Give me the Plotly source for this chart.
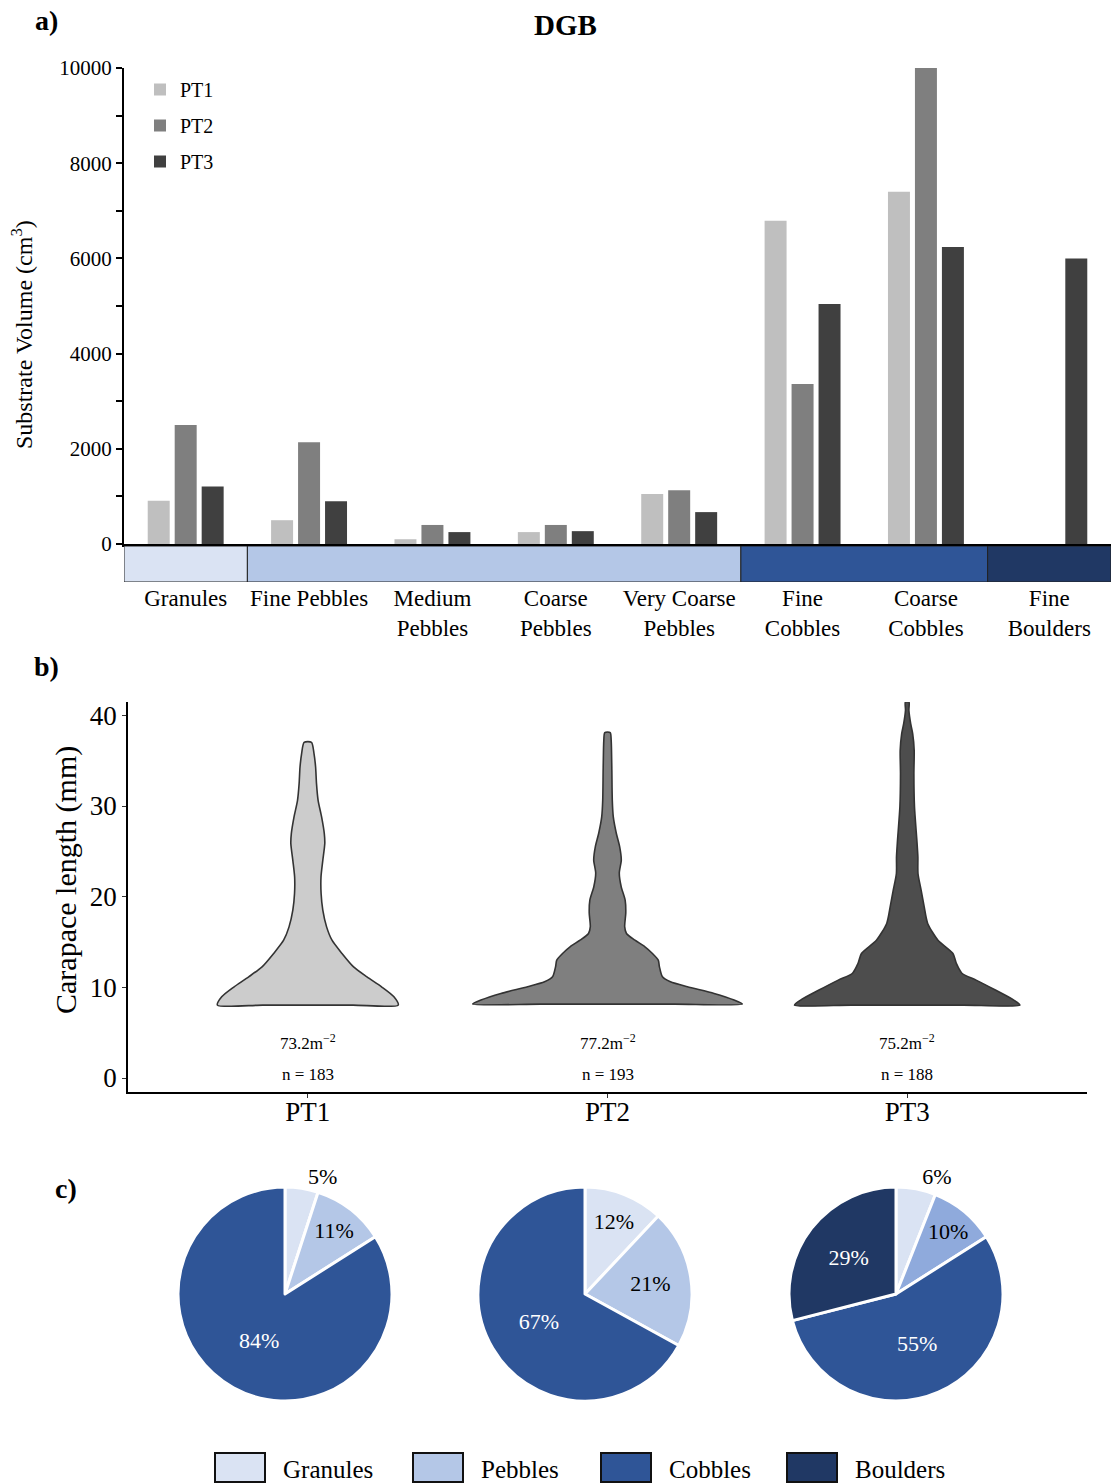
import plotly.graph_objects as go

W, H = 1111, 1484
SERIF = "Liberation Serif, Times New Roman, serif"


def fx(px):
    return px / W


def fy(py):
    return 1 - py / H


# ---------------- Panel a data ----------------
class_ticklabels = ["Granules", "Fine Pebbles", "Medium<br>Pebbles", "Coarse<br>Pebbles",
                    "Very Coarse<br>Pebbles", "Fine<br>Cobbles", "Coarse<br>Cobbles", "Fine<br>Boulders"]
site_names = ["PT1", "PT2", "PT3"]
pt1_volume = [910, 500, 100, 250, 1050, 6790, 7400, 0]
pt2_volume = [2500, 2140, 400, 400, 1130, 3360, 10000, 0]
pt3_volume = [1210, 900, 250, 270, 670, 5040, 6240, 6000]
site_colors = ["#bfbfbf", "#7f7f7f", "#404040"]

band_names = ["Granules", "Pebbles", "Cobbles", "Boulders"]
band_first_class = [0, 1, 5, 7]
band_class_count = [1, 4, 2, 1]
band_colors = ["#dae3f3", "#b4c7e7", "#2f5597", "#203864"]

# ---------------- Panel b data (violin outlines) ----------------
pt1_length = [8.04, 8.96, 10.06, 11.16, 12.26, 13.74, 15.2, 16.67, 18.51, 20.35, 22.18,
              24.0, 25.86, 26.96, 28.8, 30.63, 32.47, 34.3, 35.78, 37.02]
pt1_width = [90.5, 86.2, 73.8, 59.2, 45.8, 34.2, 24.2, 18.8, 15, 13.3, 13.2,
             15, 17, 16.5, 13.8, 10.3, 8.7, 7.8, 6.2, 3.7]
pt2_length = [8.15, 8.6, 9.33, 10.06, 10.61, 11.16, 12.26, 13.0, 13.74, 14.47, 15.2, 15.94,
              16.7, 18.2, 19.6, 21.1, 22.6, 24.05, 25.5, 27.0, 28.8, 30.6, 34.3, 37.2, 38.1]
pt2_width = [135, 126.7, 106.7, 80, 63, 55, 52, 50.8, 45, 37.5, 27.5, 19,
             17.2, 18.3, 17.7, 13.7, 11.8, 13.8, 12.2, 8.8, 5.8, 4.8, 4.3, 3.7, 2.7]
pt3_length = [8.04, 8.6, 9.7, 10.8, 11.53, 12.64, 13.74, 15.2, 17.05, 18.9, 20.7, 22.56,
              24.4, 26.2, 29.9, 33.58, 36.14, 37.98, 39.08, 40.55, 41.47]
pt3_width = [112.8, 106.7, 88.3, 69, 55, 49.2, 45.8, 30.8, 20.5, 17, 14, 10.8,
             10.7, 9.7, 7.3, 6.7, 7, 5.5, 3.5, 1.7, 1.8]
violin_colors = ["#cccccc", "#7f7f7f", "#4d4d4d"]
density_m2 = [73.2, 77.2, 75.2]
n_crabs = [183, 193, 188]

# ---------------- Panel c data ----------------
pie_labels = ["Granules", "Pebbles", "Cobbles", "Boulders"]
pt1_pct = [5, 11, 84]
pt2_pct = [12, 21, 67]
pt3_pct = [6, 10, 55, 29]
pie_colors = {
    "PT1": ["#dae3f3", "#b4c7e7", "#2f5597"],
    "PT2": ["#dae3f3", "#b4c7e7", "#2f5597"],
    "PT3": ["#dae3f3", "#8faadc", "#2f5597", "#203864"],
}

fig = go.Figure()

# ---- Panel a bars ----
for name, vals, col in zip(site_names, [pt1_volume, pt2_volume, pt3_volume], site_colors):
    fig.add_trace(go.Bar(x=list(range(len(vals))), y=vals, name=name, marker_color=col,
                         marker_line_width=0, xaxis="x", yaxis="y", legendgroup=name,
                         hoverinfo="skip"))

# ---- category band ----
band_x = [f + c / 2 - 0.5 for f, c in zip(band_first_class, band_class_count)]
fig.add_trace(go.Bar(x=band_x, y=[1] * len(band_names), width=band_class_count, base=0,
                     marker=dict(color=band_colors, line=dict(color="#222222", width=1)),
                     xaxis="x2", yaxis="y2", showlegend=False, hoverinfo="skip"))

# ---- Panel b violins ----
WIDTH_SCALE = 1 / 300.0
for i, (lens, wid, col) in enumerate(zip([pt1_length, pt2_length, pt3_length],
                                         [pt1_width, pt2_width, pt3_width], violin_colors)):
    hw = [w * WIDTH_SCALE for w in wid]
    xs = [i - h for h in hw] + [i + h for h in reversed(hw)]
    ys = list(lens) + list(reversed(lens))
    b = lens[0]
    xs += [i + hw[0] * 0.5, i, i - hw[0] * 0.5, i - hw[0]]
    ys += [b, b, b, b]
    fig.add_trace(go.Scatter(x=xs, y=ys, mode="lines", fill="toself", fillcolor=col,
                             line=dict(color="#333333", width=1.6, shape="spline", smoothing=0.7),
                             xaxis="x3", yaxis="y3", showlegend=False, hoverinfo="skip"))

# ---- Panel c pies ----
pie_centers = [(285, 1294), (585, 1294), (896, 1294)]
R = 107
for (cx, cy), site, vals in zip(pie_centers, site_names, [pt1_pct, pt2_pct, pt3_pct]):
    labs = pie_labels[:len(vals)]
    cols = pie_colors[site]
    txtcol = ["black" if c in ("#dae3f3", "#b4c7e7", "#8faadc") else "white" for c in cols]
    pos = ["outside" if v < 8 else "inside" for v in vals]
    fig.add_trace(go.Pie(values=vals, labels=labs, sort=False, direction="clockwise", rotation=0,
                         marker=dict(colors=cols, line=dict(color="white", width=3)),
                         texttemplate="%{value}%", textposition=pos,
                         insidetextorientation="horizontal",
                         textfont=dict(family=SERIF, size=22, color=txtcol),
                         domain=dict(x=[fx(cx - R), fx(cx + R)], y=[fy(cy + R), fy(cy - R)]),
                         showlegend=False, hoverinfo="skip"))

annotations = []


def note(text, x, y, size, angle=0, xanchor="center", yanchor="middle"):
    annotations.append(dict(x=fx(x), y=fy(y), xref="paper", yref="paper", showarrow=False,
                            xanchor=xanchor, yanchor=yanchor, textangle=angle, text=text,
                            font=dict(family=SERIF, size=size, color="black")))


# density / n labels
for i, (d, n) in enumerate(zip(density_m2, n_crabs)):
    annotations.append(dict(x=i, y=3.97, xref="x3", yref="y3", showarrow=False,
                            xanchor="center", yanchor="middle",
                            text=f"{d}m<sup>\u22122</sup>", font=dict(family=SERIF, size=17, color="black")))
    annotations.append(dict(x=i, y=0.44, xref="x3", yref="y3", showarrow=False,
                            xanchor="center", yanchor="middle",
                            text=f"n = {n}", font=dict(family=SERIF, size=17, color="black")))

# panel labels / titles
note("<b>a)</b>", 47, 20, 28)
note("<b>b)</b>", 47, 667, 28)
note("<b>c)</b>", 66, 1188, 28)
note("<b>DGB</b>", 565, 25, 29)
note("Substrate Volume (cm<sup>3</sup>)", 22, 335, 24, angle=-90)
note("Carapace length (mm)", 66, 880, 30, angle=-90)

# bottom legend for substrate classes
shapes = []
legend_left_px = [215, 413, 601, 787]
for name, col, lx in zip(pie_labels, band_colors, legend_left_px):
    shapes.append(dict(type="rect", xref="paper", yref="paper", x0=fx(lx), x1=fx(lx + 50),
                       y0=fy(1482), y1=fy(1453), fillcolor=col, line=dict(color="#111111", width=2)))
    note(name, lx + 66, 1469, 25, xanchor="left")

fig.update_layout(
    width=W, height=H,
    margin=dict(l=0, r=0, t=0, b=0, pad=0, autoexpand=False),
    paper_bgcolor="white", plot_bgcolor="white",
    font=dict(family=SERIF, color="black"),
    barmode="group", bargap=0.344, bargroupgap=0.185,
    showlegend=True,
    legend=dict(x=fx(140), y=fy(70), xanchor="left", yanchor="top", bgcolor="rgba(0,0,0,0)",
                font=dict(family=SERIF, size=20, color="black"), tracegroupgap=7),
    xaxis=dict(domain=[fx(124), 1.0], range=[-0.5, 7.5], showticklabels=False, ticks="",
               tickmode="array", tickvals=[],
               showline=True, linecolor="black", linewidth=2.5, showgrid=False, zeroline=False,
               anchor="y", automargin=False),
    yaxis=dict(domain=[fy(544), fy(68)], range=[0, 10000], dtick=2000, tick0=0, tickformat="d",
               ticks="outside", ticklen=6, tickwidth=1.5, tickcolor="black",
               minor=dict(dtick=1000, ticks="outside", ticklen=6, tickwidth=1.5, tickcolor="black",
                          showgrid=False),
               showline=True, linecolor="black", linewidth=2, showgrid=False, zeroline=False,
               tickfont=dict(family=SERIF, size=21, color="black"), anchor="x", automargin=False),
    xaxis2=dict(domain=[fx(124), 1.0], range=[-0.5, 7.5], tickvals=list(range(8)),
                ticktext=class_ticklabels, ticks="", showline=False, showgrid=False, zeroline=False,
                tickfont=dict(family=SERIF, size=23, color="black"), anchor="y2", automargin=False),
    yaxis2=dict(domain=[fy(582), fy(546)], range=[0, 1], visible=False, anchor="x2"),
    xaxis3=dict(domain=[fx(128), fx(1087)], range=[-0.6, 2.6], tickvals=[0, 1, 2],
                ticktext=site_names, ticks="outside", ticklen=4, tickcolor="#333333",
                ticklabelstandoff=-9,
                showline=True, linecolor="black", linewidth=1.6, showgrid=False, zeroline=False,
                tickfont=dict(family=SERIF, size=27, color="black"), anchor="y3", automargin=False),
    yaxis3=dict(domain=[fy(1092), fy(702)], range=[-1.54, 41.47], tickvals=[0, 10, 20, 30, 40],
                ticks="outside", ticklen=4, tickcolor="#333333",
                showline=True, linecolor="black", linewidth=1.6, showgrid=False, zeroline=False,
                tickfont=dict(family=SERIF, size=27, color="black"), anchor="x3", automargin=False),
    annotations=annotations,
    shapes=shapes,
)

fig.write_html("out.html", config={"displayModeBar": False},
               post_script="document.body.style.margin='0';")
